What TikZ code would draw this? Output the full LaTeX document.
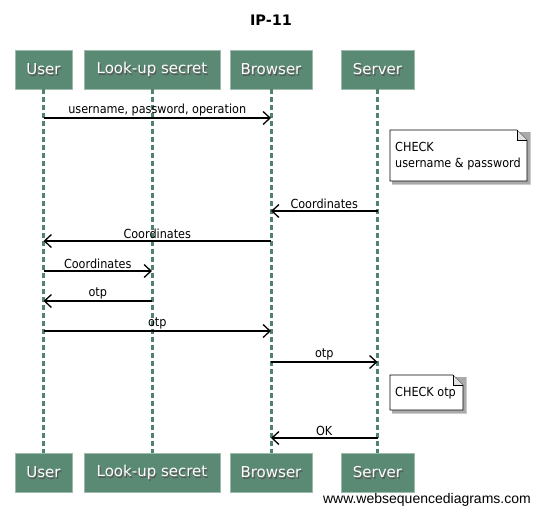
\documentclass[tikz,border=0pt]{standalone}
\usepackage{fontspec}
\setmainfont{DejaVu Sans}
\newfontfamily\labelfont{DejaVu Sans Condensed}
\newfontfamily\markfont{Liberation Sans}
\usetikzlibrary{arrows.meta}
\definecolor{actorfill}{HTML}{5B8A74}
\definecolor{actorrim}{HTML}{9DBBAC}
\definecolor{lifegreen}{HTML}{4F8270}
\definecolor{notegray}{HTML}{AAAAAA}
\begin{document}
\begin{tikzpicture}[x=1pt,y=-1pt,
    actor/.style={draw=actorrim, fill=actorfill, minimum height=39pt, inner sep=0pt},
    actortext/.style={text=white, font=\fontsize{15}{17}\selectfont, inner sep=0pt},
    actorshade/.style={text=black!65, font=\fontsize{15}{17}\selectfont, inner sep=0pt},
    life/.style={lifegreen, line width=3pt, dash pattern=on 4.5pt off 3.5pt},
    msg/.style={line width=1.3pt, -{Straight Barb[length=7pt,width=13pt,line width=1.3pt]}},
    lbl/.style={midway, above, inner sep=1.5pt, font=\labelfont\fontsize{12.5}{14}\selectfont},
    notetext/.style={anchor=north west, align=left, inner sep=0pt, font=\labelfont\fontsize{12.5}{16}\selectfont}]
\useasboundingbox (0,0) rectangle (539,515);
\node[font=\bfseries\fontsize{14.5}{17}\selectfont] (title) at (271,20) {IP-11};
% participants, top and bottom
\foreach \nm/\txt/\xc/\bw in {user/User/43.5/57, secret/Look-up secret/152/136, browser/Browser/271/82, server/Server/377.5/73}{
  \foreach \pos/\yc in {top/69.5, bot/472.5}{
    \node[actor, minimum width=\bw pt] (\nm\pos) at (\xc,\yc) {};
    \node[actorshade] (\nm\pos shade) at (\xc+1.2,\yc+1.4) {\txt};
    \node[actortext] (\nm\pos label) at (\xc,\yc) {\txt};
  }
  \draw[life] (\nm top.south) -- (\nm bot.north);
}
% messages
\draw[msg] (usertop |- 0,118) -- (browsertop |- 0,118) node[lbl] {username, password, operation};
\draw[msg] (servertop |- 0,211) -- (browsertop |- 0,211) node[lbl] {Coordinates};
\draw[msg] (browsertop |- 0,241) -- (usertop |- 0,241) node[lbl] {Coordinates};
\draw[msg] (usertop |- 0,271) -- (secrettop |- 0,271) node[lbl] {Coordinates};
\draw[msg] (secrettop |- 0,301) -- (usertop |- 0,301) node[lbl] {otp};
\draw[msg] (usertop |- 0,331) -- (browsertop |- 0,331) node[lbl] {otp};
\draw[msg] (browsertop |- 0,362) -- (servertop |- 0,362) node[lbl] {otp};
\draw[msg] (servertop |- 0,438) -- (browsertop |- 0,438) node[lbl] {OK};
% notes
\foreach \nm/\xl/\yt/\xr/\yb in {checkpw/390/130/527/181, checkotp/390/375/463/410}{
  \fill[notegray!60] (\xl+2,\yt+2) rectangle (\xr+4,\yb+4);
  \fill[notegray] (\xl+2,\yt+2) rectangle (\xr+2.5,\yb+2.5);
  \draw[fill=white, line width=0.7pt] (\xl,\yt) -- (\xr-10,\yt) -- (\xr,\yt+10) -- (\xr,\yb) -- (\xl,\yb) -- cycle;
  \draw[fill=black!12, line width=0.5pt] (\xr-10,\yt) -- (\xr-10,\yt+10) -- (\xr,\yt+10);
}
\node[notetext] (checkpwtext) at (395,142) {CHECK\\username \& password};
\node[notetext] (checkotptext) at (395,387) {CHECK otp};
\node[anchor=east, inner sep=0pt, font=\markfont\fontsize{14}{16}\selectfont] (mark) at (531,500) {www.websequencediagrams.com};
\end{tikzpicture}
\end{document}
